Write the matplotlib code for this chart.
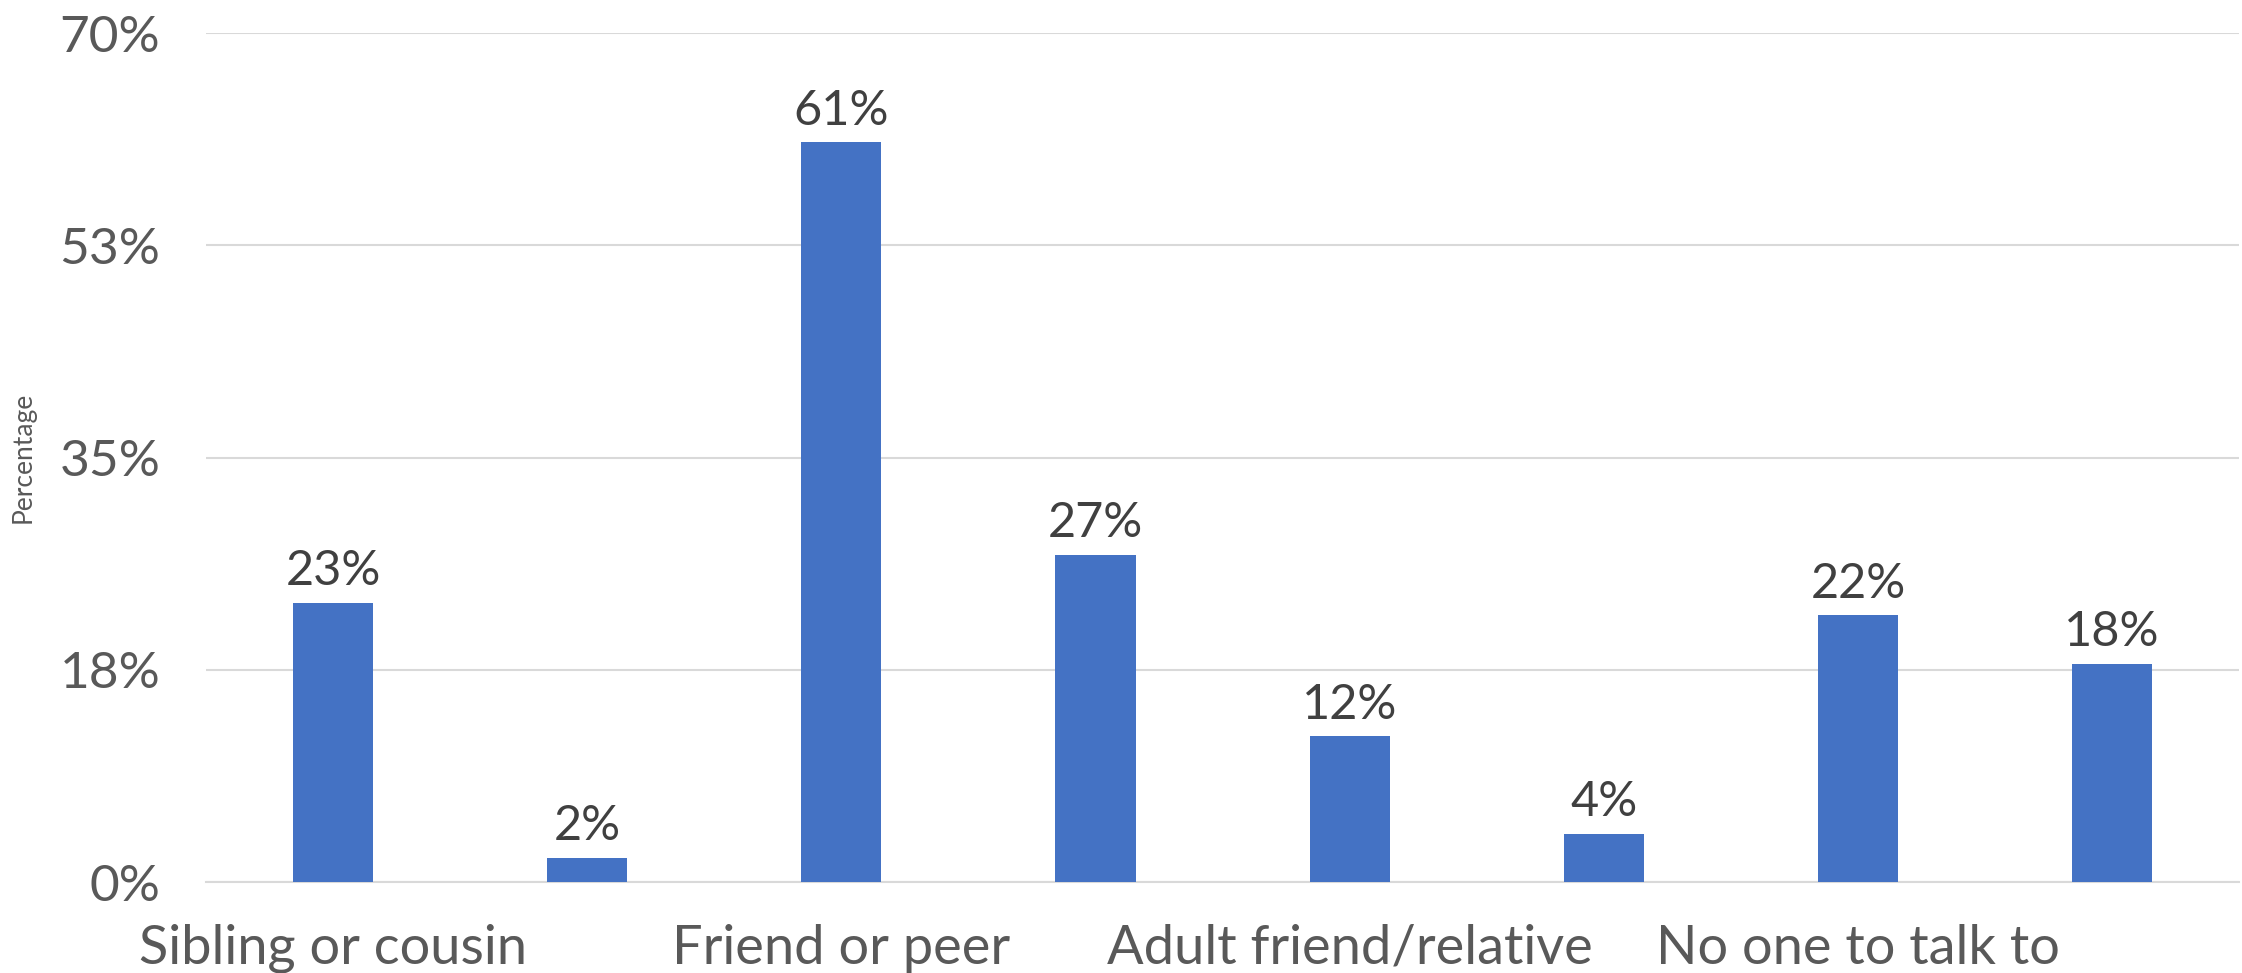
import numpy as np
import matplotlib.pyplot as plt

# Who respondents talk to, share of responses
categories = ["Sibling or cousin", "", "Friend or peer", "",
              "Adult friend/relative", "", "No one to talk to", ""]
values = [23, 2, 61, 27, 12, 4, 22, 18]
ytick_vals = [0, 17.5, 35, 52.5, 70]
ytick_labels = ["0%", "18%", "35%", "53%", "70%"]

plt.rcParams['font.family'] = ['Lato', 'DejaVu Sans']

fig = plt.figure(figsize=(22.42, 9.73), dpi=100)
ax = fig.add_axes([0.0919, 0.0935, 0.9068, 0.8725])

x = np.arange(len(values))
bars = ax.bar(x, values, width=0.315, color='#4472c4', zorder=3)

# value labels above each bar
for b, v in zip(bars, values):
    ax.text(b.get_x() + b.get_width() / 2, v + 0.8, f"{v}%",
            ha='center', va='bottom', fontsize=35, color='#404040')

ax.set_xlim(-0.5, len(values) - 0.5)
ax.set_ylim(0, 70)
ax.set_yticks(ytick_vals)
ax.set_yticklabels(ytick_labels)
ax.set_xticks(x)
ax.set_xticklabels(categories)

ax.tick_params(axis='y', length=0, pad=33, labelsize=37, labelcolor='#595959')
ax.tick_params(axis='x', length=0, pad=30, labelsize=39, labelcolor='#595959')

ax.grid(axis='y', color='#d9d9d9', linewidth=1.5, zorder=0)
for s in ['top', 'right', 'left']:
    ax.spines[s].set_visible(False)
ax.spines['bottom'].set_color('#d9d9d9')
ax.spines['bottom'].set_linewidth(1.5)

fig.text(0.0103, 0.53, "Percentage", rotation=90, ha='center', va='center',
         fontsize=19, color='#595959')

fig.savefig('out.png', dpi=100)
